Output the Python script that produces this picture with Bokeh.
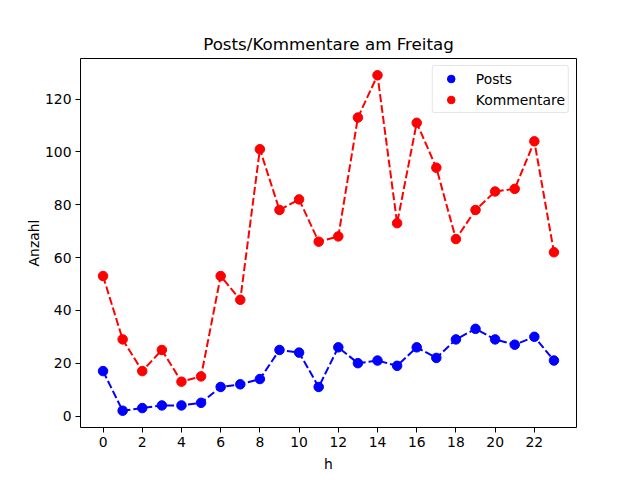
from bokeh.plotting import figure
from bokeh.models import Range1d, FixedTicker, Legend, LegendItem
from bokeh.embed import file_html
from bokeh.resources import INLINE

hours = list(range(24))
posts = [17, 2, 3, 4, 4, 5, 11, 12, 14, 25, 24, 11, 26, 20, 21, 19, 26, 22, 29, 33, 29, 27, 30, 21]
kommentare = [53, 29, 17, 25, 13, 15, 53, 44, 101, 78, 82, 66, 68, 113, 129, 73, 111, 94, 67, 78, 85, 86, 104, 62]
x_ticks = list(range(0, 24, 2))
y_ticks = list(range(0, 121, 20))

FONT = "DejaVu Sans"

p = figure(width=640, height=480, output_backend="svg", toolbar_location=None,
           title="Posts/Kommentare am Freitag",
           x_range=Range1d(-1.15, 24.15), y_range=Range1d(-4.35, 135.35),
           min_border_left=80, min_border_right=64, min_border_top=58, min_border_bottom=53)

p.title.align = "center"
p.title.text_font = FONT
p.title.text_font_size = "16.7px"
p.title.text_font_style = "normal"
p.title.text_color = "black"
p.title.standoff = 10

p.xgrid.visible = False
p.ygrid.visible = False
p.outline_line_color = "black"
p.outline_line_width = 1
p.background_fill_color = "white"
p.border_fill_color = "white"

for ax in (p.xaxis[0], p.yaxis[0]):
    ax.axis_line_color = None
    ax.major_tick_in = 0
    ax.major_tick_out = 5
    ax.minor_tick_line_color = None
    ax.major_tick_line_color = "black"
    ax.major_label_text_font = FONT
    ax.major_label_text_font_size = "13.9px"
    ax.major_label_text_color = "black"
    ax.axis_label_text_font = FONT
    ax.axis_label_text_font_size = "13.9px"
    ax.axis_label_text_font_style = "normal"
    ax.axis_label_text_color = "black"
    ax.major_label_standoff = 4

p.xaxis[0].ticker = FixedTicker(ticks=x_ticks)
p.yaxis[0].ticker = FixedTicker(ticks=y_ticks)
p.xaxis[0].axis_label = "h"
p.yaxis[0].axis_label = "Anzahl"
p.xaxis[0].axis_label_standoff = 6
p.yaxis[0].axis_label_standoff = 0

p.line(hours, posts, line_color="#0000ff", line_width=2, line_dash="8 3")
p.line(hours, kommentare, line_color="#ff0000", line_width=2, line_dash="8 3")
rp = p.scatter(hours, posts, size=9.5, fill_color="#0000ff", line_color="#0000ff")
rk = p.scatter(hours, kommentare, size=9.5, fill_color="#ff0000", line_color="#ff0000")

legend = Legend(items=[LegendItem(label="Posts", renderers=[rp]),
                       LegendItem(label="Kommentare", renderers=[rk])],
                location="top_right")
legend.margin = 7
legend.padding = 3
legend.spacing = 2
legend.label_text_font = FONT
legend.label_text_font_size = "13.9px"
legend.label_text_color = "black"
legend.border_line_color = "#cccccc"
legend.border_line_width = 1
legend.border_radius = 3
legend.background_fill_alpha = 0.8
legend.glyph_width = 30
legend.glyph_height = 19
legend.label_standoff = 10
legend.label_height = 19
p.add_layout(legend)

open("out.html", "w").write(file_html(p, INLINE))
